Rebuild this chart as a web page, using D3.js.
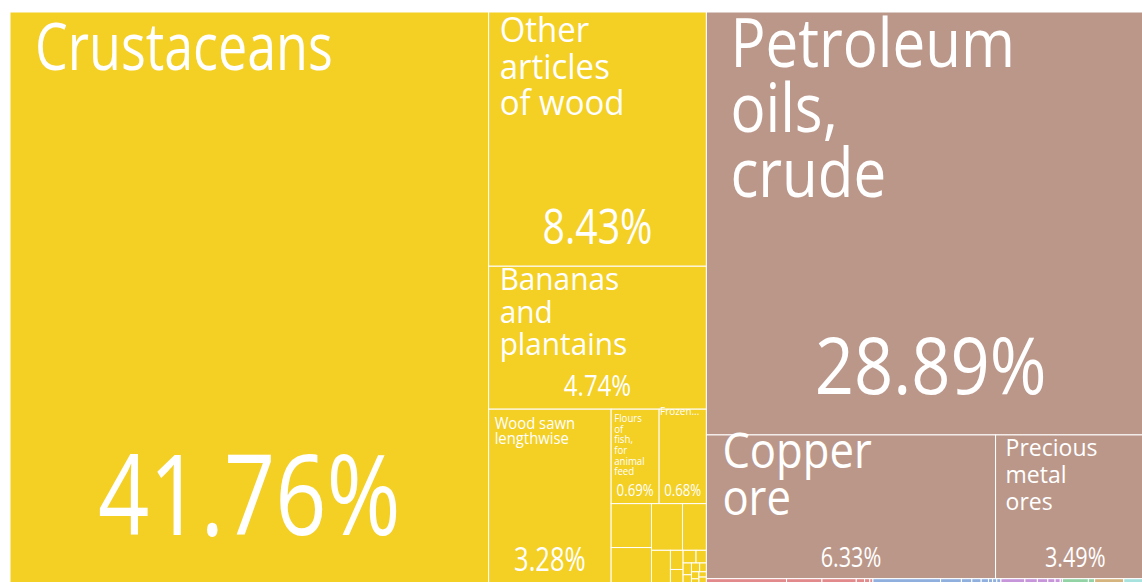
<!DOCTYPE html>
<html>
<head>
<meta charset="utf-8">
<script src="https://cdn.jsdelivr.net/npm/d3@7"></script>
<style>
  body { margin: 0; background: #fff; }
  text { font-family: "Open Sans", sans-serif; fill: #fff; }
</style>
</head>
<body>
<svg id="chart" width="1142" height="582"></svg>
<script>
// product groups (top level of the treemap)
var groupNames = ["Animal, vegetable & wood products", "Mineral products", "Chemical products",
                  "Machines", "Textiles", "Plastics & rubbers", "Metals", "Miscellaneous"];

// products: name, group index, share of total exports (%)
var productNames = [
  "Crustaceans", "Other articles of wood", "Bananas and plantains", "Wood sawn lengthwise",
  "Flours of fish, for animal feed", "Frozen fish",
  "Cocoa beans", "Fish fillets", "Dried fruits", "Plywood", "Fish oil", "Cut flowers",
  "Particle board", "Fruit juice", "Balsa wood", "Prepared fish", "Coffee", "Palm oil",
  "Wood charcoal", "Animal hair", "Raw hides", "Tropical fruits", "Vegetable saps",
  "Petroleum oils, crude", "Copper ore", "Precious metal ores",
  "Essential oils", "Pharmaceuticals", "Fertilizers", "Dyes", "Soaps", "Glues",
  "Electrical parts", "Pumps", "Valves", "Motors", "Cables", "Transformers", "Batteries", "Switches",
  "Knit garments", "Yarn", "Cotton fabric", "Sacks", "Twine", "Felt",
  "Rubber articles", "Plastic packaging",
  "Scrap metal",
  "Handicrafts"
];
var productGroups = [
  0, 0, 0, 0, 0, 0,
  0, 0, 0, 0, 0, 0, 0, 0, 0, 0, 0, 0, 0, 0, 0, 0, 0,
  1, 1, 1,
  2, 2, 2, 2, 2, 2,
  3, 3, 3, 3, 3, 3, 3, 3,
  4, 4, 4, 4, 4, 4,
  5, 5,
  6,
  7
];
var productShares = [
  41.76, 8.43, 4.74, 3.28, 0.69, 0.68,
  0.27, 0.23, 0.22, 0.17, 0.10, 0.037, 0.03, 0.025, 0.02, 0.015, 0.013, 0.011, 0.009, 0.008, 0.007, 0.006, 0.009,
  28.89, 6.33, 3.49,
  0.077, 0.034, 0.033, 0.008, 0.005, 0.003,
  0.065, 0.02, 0.01, 0.009, 0.007, 0.004, 0.004, 0.004,
  0.023, 0.012, 0.01, 0.007, 0.005, 0.002,
  0.025, 0.006,
  0.028,
  0.03
];

var groupColors = ["#f4cf24", "#bb978a", "#e2898b", "#8fafdf", "#c796da", "#92d3a6", "#d5b47e", "#a7e2df"];

// how each labelled cell writes its name and share
// fs/lh: name size and line step, px/top: name offset in the cell, sx: glyph width,
// pfs: share size, pb: share baseline above the cell bottom (in em), psx: share glyph width
var labelStyle = {
  "Crustaceans":                    { lines: ["Crustaceans"], fs: 65, lh: 65, px: 25, top: 58, sx: 0.8, pfs: 112 },
  "Other articles of wood":         { lines: ["Other", "articles", "of wood"], fs: 34, lh: 36.5, px: 11, top: 30, sx: 0.97, pfs: 49 },
  "Bananas and plantains":          { lines: ["Bananas", "and", "plantains"], fs: 31, lh: 32.5, px: 11, top: 24, sx: 0.96, pfs: 30 },
  "Wood sawn lengthwise":           { lines: ["Wood sawn", "lengthwise"], fs: 16.5, lh: 15, px: 6, top: 20, sx: 0.9, pfs: 32 },
  "Flours of fish, for animal feed":{ lines: ["Flours", "of", "fish,", "for", "animal", "feed"], fs: 11, lh: 10.6, px: 3, top: 13, sx: 0.88, pfs: 16.5 },
  "Frozen fish":                    { lines: ["Frozen..."], fs: 11, lh: 11, px: 1, top: 6, sx: 0.9, pfs: 16.5 },
  "Petroleum oils, crude":          { lines: ["Petroleum", "oils,", "crude"], fs: 67, lh: 65, px: 24, top: 55, sx: 0.87, pfs: 78, pb: 0.53, psx: 0.88 },
  "Copper ore":                     { lines: ["Copper", "ore"], fs: 49, lh: 47, px: 16, top: 33, sx: 0.89, pfs: 27 },
  "Precious metal ores":            { lines: ["Precious", "metal", "ores"], fs: 23, lh: 27, px: 10, top: 21, sx: 1.0, pfs: 27 }
};

var mapLeft = 10, mapTop = 12, mapW = 1145, mapH = 573;

var svg = d3.select("#chart");

var tree = {
  name: "Exports",
  children: groupNames.map(function (g, gi) {
    return {
      name: g, gi: gi,
      children: productNames.map(function (p, i) {
        return { name: p, gi: productGroups[i], share: productShares[i] };
      }).filter(function (p) { return p.gi === gi; })
    };
  })
};

var root = d3.hierarchy(tree).sum(function (d) { return d.share || 0; });

d3.treemap()
  .tile(d3.treemapSquarify.ratio(1))
  .size([mapW, mapH])(root);

var cells = svg.append("g").attr("transform", "translate(" + mapLeft + "," + mapTop + ")");

cells.selectAll("rect")
  .data(root.leaves())
  .enter().append("rect")
  .attr("x", function (d) { return d.x0; })
  .attr("y", function (d) { return d.y0; })
  .attr("width", function (d) { return d.x1 - d.x0; })
  .attr("height", function (d) { return d.y1 - d.y0; })
  .attr("fill", function (d) { return groupColors[d.data.gi]; })
  .attr("stroke", "#fff")
  .attr("stroke-width", 1);

root.leaves().forEach(function (d) {
  var st = labelStyle[d.data.name];
  if (!st) return;

  var name = cells.append("g")
    .attr("transform", "translate(" + (d.x0 + st.px) + "," + (d.y0 + st.top) + ") scale(" + st.sx + ",1)");
  st.lines.forEach(function (t, i) {
    name.append("text")
      .attr("y", i * st.lh)
      .attr("font-size", st.fs)
      .text(t);
  });

  var pb = st.pb || 0.45, psx = st.psx || 0.8;
  cells.append("g")
    .attr("transform", "translate(" + ((d.x0 + d.x1) / 2) + "," + (d.y1 - pb * st.pfs) + ") scale(" + psx + ",1)")
    .append("text")
    .attr("text-anchor", "middle")
    .attr("font-size", st.pfs)
    .text(d.data.share.toFixed(2) + "%");
});
</script>
</body>
</html>
